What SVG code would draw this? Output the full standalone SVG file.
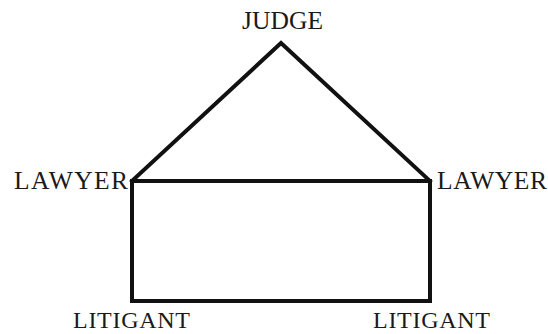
<svg xmlns="http://www.w3.org/2000/svg" width="548" height="334" viewBox="0 0 548 334">
<style>
text{font-family:"Liberation Serif","Times New Roman",serif;font-size:25.5px;fill:#1a1a1a}
text.b{font-size:24px}
.c{stroke:#111;stroke-width:4;fill:none;stroke-linejoin:miter;stroke-linecap:square}
</style>
<rect width="548" height="334" fill="#fff"/>
<g id="connectors">
<polyline class="c" points="132,181 281,43 430,181"/>
<line class="c" x1="132" y1="181" x2="430" y2="181"/>
<line class="c" x1="132" y1="181" x2="132" y2="301"/>
<line class="c" x1="430" y1="181" x2="430" y2="301"/>
<line class="c" x1="132" y1="301" x2="430" y2="301"/>
</g>
<g id="judge"><text x="242" y="29" textLength="81" lengthAdjust="spacing">JUDGE</text></g>
<g id="lawyer-left"><text x="14" y="189" textLength="114" lengthAdjust="spacing">LAWYER</text></g>
<g id="lawyer-right"><text x="437" y="189" textLength="110" lengthAdjust="spacing">LAWYER</text></g>
<g id="litigant-left"><text class="b" x="73" y="328" textLength="117" lengthAdjust="spacing">LITIGANT</text></g>
<g id="litigant-right"><text class="b" x="373" y="328" textLength="117" lengthAdjust="spacing">LITIGANT</text></g>
</svg>
